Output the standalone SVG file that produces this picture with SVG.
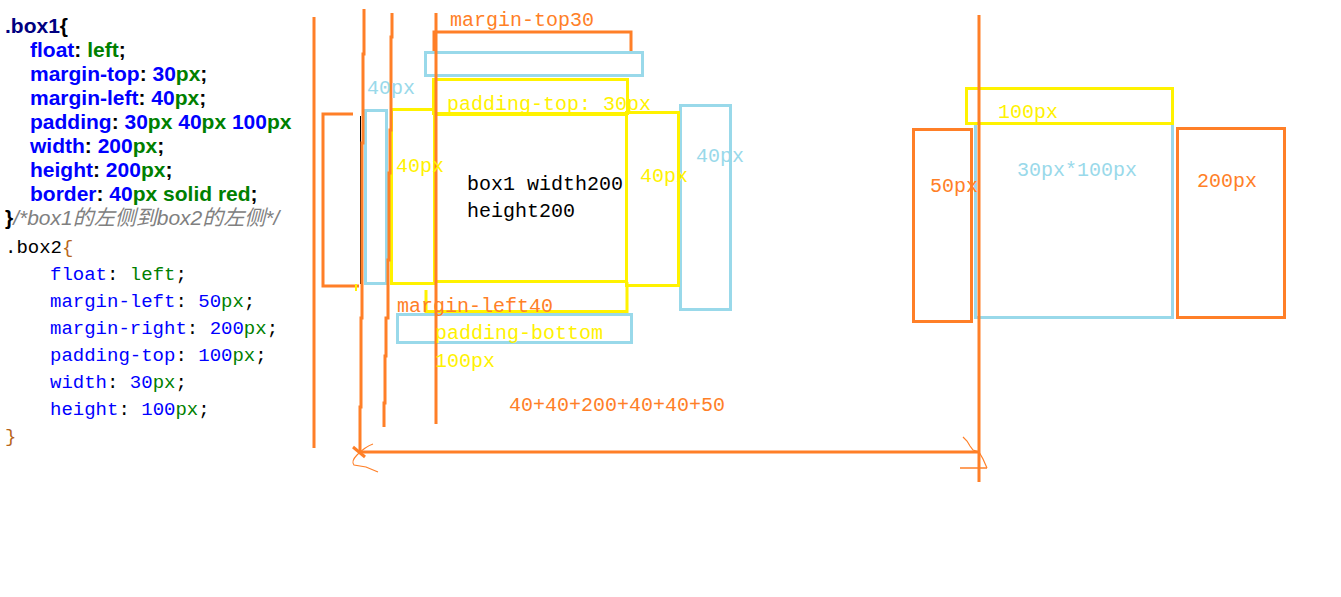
<svg xmlns="http://www.w3.org/2000/svg" width="1341" height="597" viewBox="0 0 1341 597">
  <style>
    .bg { fill: #ffffff; }
    .css1 { font-family: "Liberation Sans", Arial, sans-serif; font-size: 21px; font-weight: bold; }
    .cmt { font-family: "Liberation Sans", "Noto Sans CJK SC", sans-serif; font-size: 21px; font-style: italic; font-weight: normal; fill: #808080; }
    .css2 { font-family: "Liberation Mono", "Courier New", monospace; font-size: 19px; }
    .sel { fill: #000080; }
    .blk { fill: #000000; }
    .prop { fill: #0000ff; }
    .num { fill: #0000ff; }
    .unit { fill: #008000; }
    .brace2 { fill: #b8651b; }
    .lbl { font-family: "Liberation Mono", "Courier New", monospace; font-size: 20px; }
    .t-or { fill: #ff7f27; }
    .t-ye { fill: #fff200; }
    .t-bl { fill: #99d9ea; }
    .t-bk { fill: #000000; }
    .or { fill: none; stroke: #ff7f27; stroke-width: 3; }
    .ye { fill: none; stroke: #fff200; stroke-width: 3; }
    .bl { fill: none; stroke: #99d9ea; stroke-width: 3; }
    .thin { fill: none; stroke: #ff7f27; stroke-width: 1.2; }
  </style>

  <rect class="bg" x="0" y="0" width="1341" height="597"/>

  <!-- CSS source for box1 -->
  <g id="code-box1" class="css1">
    <text x="5" y="33"><tspan class="sel">.box1</tspan><tspan class="blk">{</tspan></text>
    <text x="30" y="57"><tspan class="prop">float</tspan><tspan class="blk">: </tspan><tspan class="unit">left</tspan><tspan class="blk">;</tspan></text>
    <text x="30" y="81"><tspan class="prop">margin-top</tspan><tspan class="blk">: </tspan><tspan class="num">30</tspan><tspan class="unit">px</tspan><tspan class="blk">;</tspan></text>
    <text x="30" y="105"><tspan class="prop">margin-left</tspan><tspan class="blk">: </tspan><tspan class="num">40</tspan><tspan class="unit">px</tspan><tspan class="blk">;</tspan></text>
    <text x="30" y="129"><tspan class="prop">padding</tspan><tspan class="blk">: </tspan><tspan class="num">30</tspan><tspan class="unit">px</tspan><tspan class="blk"> </tspan><tspan class="num">40</tspan><tspan class="unit">px</tspan><tspan class="blk"> </tspan><tspan class="num">100</tspan><tspan class="unit">px</tspan></text>
    <text x="30" y="153"><tspan class="prop">width</tspan><tspan class="blk">: </tspan><tspan class="num">200</tspan><tspan class="unit">px</tspan><tspan class="blk">;</tspan></text>
    <text x="30" y="177"><tspan class="prop">height</tspan><tspan class="blk">: </tspan><tspan class="num">200</tspan><tspan class="unit">px</tspan><tspan class="blk">;</tspan></text>
    <text x="30" y="201"><tspan class="prop">border</tspan><tspan class="blk">: </tspan><tspan class="num">40</tspan><tspan class="unit">px solid red</tspan><tspan class="blk">;</tspan></text>
    <text x="5" y="225"><tspan class="blk">}</tspan><tspan class="cmt">/*box1的左侧到box2的左侧*/</tspan></text>
  </g>

  <!-- CSS source for box2 -->
  <g id="code-box2" class="css2">
    <text x="5" y="253"><tspan class="blk">.box2</tspan><tspan class="brace2">{</tspan></text>
    <text x="50" y="280"><tspan class="prop">float</tspan><tspan class="blk">: </tspan><tspan class="unit">left</tspan><tspan class="blk">;</tspan></text>
    <text x="50" y="307"><tspan class="prop">margin-left</tspan><tspan class="blk">: </tspan><tspan class="num">50</tspan><tspan class="unit">px</tspan><tspan class="blk">;</tspan></text>
    <text x="50" y="334"><tspan class="prop">margin-right</tspan><tspan class="blk">: </tspan><tspan class="num">200</tspan><tspan class="unit">px</tspan><tspan class="blk">;</tspan></text>
    <text x="50" y="361"><tspan class="prop">padding-top</tspan><tspan class="blk">: </tspan><tspan class="num">100</tspan><tspan class="unit">px</tspan><tspan class="blk">;</tspan></text>
    <text x="50" y="388"><tspan class="prop">width</tspan><tspan class="blk">: </tspan><tspan class="num">30</tspan><tspan class="unit">px</tspan><tspan class="blk">;</tspan></text>
    <text x="50" y="415"><tspan class="prop">height</tspan><tspan class="blk">: </tspan><tspan class="num">100</tspan><tspan class="unit">px</tspan><tspan class="blk">;</tspan></text>
    <text x="5" y="442" class="brace2">}</text>
  </g>

  <!-- box1: margin / border / padding / content -->
  <g id="box1-margin-left">
    <path class="or" d="M353,114 H323 V286 H359"/>
    <line x1="360.5" y1="116" x2="360.5" y2="284" stroke="#000000" stroke-width="1"/>
    <line x1="356" y1="284" x2="356" y2="291" stroke="#fff200" stroke-width="2"/>
  </g>
  <g id="box1-margin-top">
    <path class="or" d="M434,52 V32 H631 V51"/>
  </g>
  <g id="box1-border">
    <rect class="bl" x="425.5" y="52.5" width="217" height="23"/>
    <rect class="bl" x="365.5" y="110.5" width="21" height="173"/>
    <rect class="bl" x="680.5" y="105.5" width="50" height="204"/>
    <rect class="bl" x="397.5" y="314.5" width="234" height="28"/>
  </g>
  <g id="box1-padding">
    <rect class="ye" x="433.5" y="79.5" width="194" height="34"/>
    <rect class="ye" x="391.5" y="109.5" width="43" height="174"/>
    <rect class="ye" x="626.5" y="112.5" width="52" height="173"/>
    <path class="ye" d="M426,290 V311.5 H627 V282"/>
  </g>
  <g id="box1-content">
    <rect class="ye" x="435.5" y="114.5" width="191" height="167"/>
    <text class="lbl t-bk" x="467" y="190">box1 width200</text>
    <text class="lbl t-bk" x="467" y="217">height200</text>
  </g>

  <!-- box2: margins, padding-top and content -->
  <g id="box2-margin-left">
    <rect class="or" x="913.5" y="129.5" width="58" height="192"/>
  </g>
  <g id="box2-content">
    <rect class="bl" x="975.5" y="123.5" width="197" height="194"/>
  </g>
  <g id="box2-padding-top">
    <rect class="ye" x="966.5" y="88.5" width="206" height="35"/>
  </g>
  <g id="box2-margin-right">
    <rect class="or" x="1177.5" y="128.5" width="107" height="189"/>
  </g>

  <!-- guide lines and the measuring arrow -->
  <g id="connectors">
    <line class="or" x1="314" y1="17" x2="314" y2="448"/>
    <polyline class="or" points="364,9 364,54 363,54 363,143 362,143 362,318 361,318 361,407 360,407 360,452"/>
    <polyline class="or" points="392,13 392,37 391,37 391,130 390,130 390,173 389,173 389,260 388,260 388,318 386,318 386,356 385,356 385,403 384,403 384,427"/>
    <line class="or" x1="436" y1="13" x2="436" y2="424"/>
    <line class="or" x1="979" y1="15" x2="979" y2="482"/>
    <line class="or" x1="359" y1="452" x2="979" y2="452"/>
    <!-- left arrowhead, hand drawn -->
    <line class="or" x1="353" y1="447" x2="365" y2="457"/>
    <path class="thin" d="M373,444 C367,446 361,451 357,455 C353,459 352,463 354,465 L366,467 L378,472"/>
    <!-- right arrowhead, hand drawn -->
    <polyline class="thin" points="963,437 967,441 970,446 973,450 979,452 983,459 987,468"/>
    <line x1="960" y1="468" x2="987" y2="468" stroke="#ff7f27" stroke-width="1.5"/>
  </g>

  <!-- measurement labels -->
  <g id="labels" class="lbl">
    <text class="t-or" x="450" y="26">margin-top30</text>
    <text class="t-bl" x="367" y="94">40px</text>
    <text class="t-ye" x="447" y="110">padding-top: 30px</text>
    <text class="t-ye" x="396" y="172">40px</text>
    <text class="t-ye" x="640" y="182">40px</text>
    <text class="t-bl" x="696" y="162">40px</text>
    <text class="t-or" x="397" y="312">margin-left40</text>
    <text class="t-ye" x="435" y="339">padding-bottom</text>
    <text class="t-ye" x="435" y="367">100px</text>
    <text class="t-or" x="509" y="411">40+40+200+40+40+50</text>
    <text class="t-ye" x="998" y="118">100px</text>
    <text class="t-bl" x="1017" y="176">30px*100px</text>
    <text class="t-or" x="930" y="192">50px</text>
    <text class="t-or" x="1197" y="187">200px</text>
  </g>
</svg>
